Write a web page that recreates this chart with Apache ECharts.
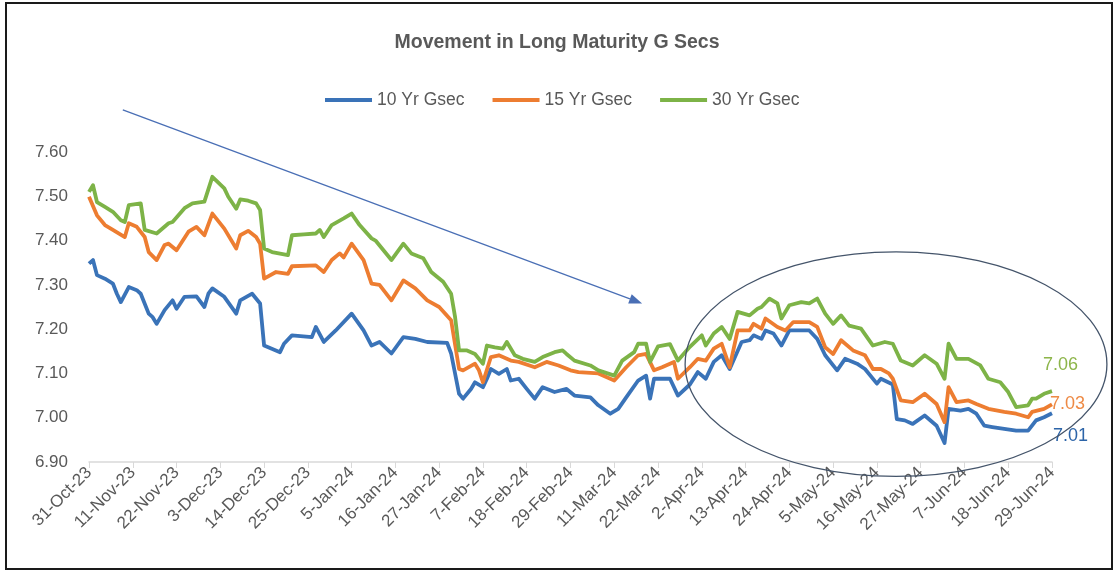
<!DOCTYPE html>
<html>
<head>
<meta charset="utf-8">
<script src="https://cdn.jsdelivr.net/npm/echarts@6/dist/echarts.min.js"></script>
<style>
html,body{margin:0;padding:0;background:#fff;}
#chart{width:1114px;height:581px;}
</style>
</head>
<body>
<div id="chart"></div>
<script>
// Day offsets are counted from 31-Oct-2023
const START = new Date(2023, 9, 31);
const tickLabelsEvery = 11;

const seriesNames = ['10 Yr Gsec', '15 Yr Gsec', '30 Yr Gsec'];

const tenYrDays = [0,1,2,4,6,7,8,10,12,13,15,16,17,19,21,22,24,27,29,30,31,34,37,38,41,43,44,48,49,51,56,57,59,62,66,69,71,73,76,79,82,85,90,91,93,94,96,97,99,100,101,103,105,106,108,110,112,114,117,120,122,126,128,131,133,135,138,140,141,142,146,148,151,153,155,157,159,161,164,166,167,169,170,172,174,176,181,183,185,188,190,193,195,198,199,202,203,205,207,210,213,215,216,219,221,223,225,227,230,233,236,238,240,242];
const tenYr = [7.348,7.356,7.322,7.314,7.303,7.28,7.261,7.295,7.288,7.28,7.235,7.227,7.212,7.243,7.265,7.246,7.273,7.274,7.25,7.28,7.292,7.273,7.235,7.265,7.28,7.258,7.163,7.148,7.167,7.186,7.182,7.205,7.171,7.197,7.235,7.197,7.163,7.171,7.145,7.182,7.178,7.171,7.169,7.145,7.054,7.043,7.065,7.08,7.069,7.088,7.11,7.099,7.11,7.084,7.088,7.065,7.043,7.069,7.058,7.065,7.05,7.046,7.028,7.009,7.02,7.046,7.084,7.095,7.043,7.088,7.088,7.05,7.075,7.103,7.088,7.126,7.141,7.11,7.171,7.175,7.186,7.178,7.197,7.19,7.163,7.197,7.197,7.178,7.141,7.107,7.133,7.122,7.11,7.077,7.088,7.075,6.997,6.994,6.986,7.005,6.982,6.943,7.02,7.016,7.02,7.009,6.982,6.979,6.975,6.971,6.971,6.994,7.001,7.01];

const fifteenYrDays = [0,2,4,6,9,10,12,14,15,17,19,20,22,25,27,29,31,34,37,38,40,42,43,44,47,50,51,57,59,61,63,64,66,69,71,73,76,79,82,85,88,91,93,94,97,98,99,101,103,106,108,112,115,118,121,123,128,132,135,138,140,142,144,147,148,151,153,155,157,159,161,163,166,167,169,170,173,175,177,181,183,185,187,189,192,195,197,199,201,202,204,207,210,213,215,216,218,221,223,226,230,233,236,237,240,242];
const fifteenYr = [7.499,7.457,7.435,7.424,7.408,7.439,7.431,7.408,7.374,7.356,7.39,7.393,7.378,7.42,7.431,7.412,7.461,7.427,7.382,7.412,7.422,7.408,7.393,7.314,7.329,7.325,7.342,7.344,7.329,7.356,7.371,7.362,7.393,7.356,7.303,7.30,7.265,7.31,7.292,7.265,7.25,7.22,7.11,7.107,7.122,7.107,7.08,7.137,7.141,7.129,7.126,7.114,7.126,7.118,7.107,7.103,7.10,7.084,7.114,7.141,7.144,7.107,7.114,7.126,7.088,7.114,7.133,7.129,7.156,7.167,7.114,7.197,7.197,7.212,7.201,7.224,7.205,7.197,7.216,7.216,7.205,7.159,7.144,7.175,7.152,7.141,7.11,7.11,7.10,7.088,7.039,7.035,7.054,7.031,6.99,7.069,7.035,7.039,7.031,7.02,7.013,7.009,7.001,7.013,7.02,7.03];

const thirtyYrDays = [0,1,2,4,6,8,9,10,13,14,17,20,21,24,26,29,31,34,35,37,38,40,42,43,44,46,50,51,54,57,58,59,61,64,66,68,71,72,76,79,81,84,86,89,91,92,93,95,97,99,100,102,104,105,107,109,112,114,117,119,120,122,126,128,132,134,137,138,140,141,143,146,148,151,154,155,157,159,161,163,166,168,169,171,173,174,176,179,181,183,185,187,189,191,194,197,200,202,204,207,210,213,215,216,218,221,224,226,229,231,233,236,237,238,240,242];
const thirtyYr = [7.51,7.525,7.487,7.476,7.465,7.446,7.442,7.48,7.484,7.424,7.416,7.439,7.442,7.473,7.484,7.488,7.544,7.518,7.499,7.472,7.493,7.49,7.484,7.469,7.382,7.374,7.367,7.412,7.414,7.416,7.424,7.408,7.435,7.45,7.461,7.435,7.405,7.40,7.356,7.393,7.371,7.36,7.329,7.307,7.28,7.227,7.152,7.152,7.144,7.122,7.163,7.159,7.156,7.171,7.141,7.133,7.126,7.137,7.148,7.152,7.144,7.129,7.118,7.107,7.095,7.129,7.148,7.167,7.167,7.126,7.161,7.166,7.129,7.16,7.186,7.163,7.19,7.205,7.178,7.239,7.231,7.246,7.25,7.269,7.258,7.224,7.254,7.261,7.258,7.269,7.235,7.212,7.231,7.208,7.201,7.163,7.171,7.167,7.129,7.118,7.141,7.122,7.088,7.167,7.133,7.133,7.118,7.088,7.08,7.058,7.024,7.028,7.043,7.043,7.054,7.06];

const yTicks = ['6.90','7.00','7.10','7.20','7.30','7.40','7.50','7.60'];

const colors = ['#3A73B8', '#ED7D31', '#7DB347'];
const endLabelColors = ['#2C64A8', '#EE8A45', '#8DB54A'];

const MONTHS = ['Jan','Feb','Mar','Apr','May','Jun','Jul','Aug','Sep','Oct','Nov','Dec'];
function dayToLabel(d) {
  const dt = new Date(START.getFullYear(), START.getMonth(), START.getDate() + Math.round(d));
  return dt.getDate() + '-' + MONTHS[dt.getMonth()] + '-' + String(dt.getFullYear()).slice(2);
}
function pairs(days, vals) { return days.map((d, i) => [d, vals[i]]); }

const chart = echarts.init(document.getElementById('chart'));
const font = '"Liberation Sans", Arial, sans-serif';

const endOffsets = [[-7, 23], [-10, 0], [-17, -26]];
const allData = [pairs(tenYrDays, tenYr), pairs(fifteenYrDays, fifteenYr), pairs(thirtyYrDays, thirtyYr)];

chart.setOption({
  animation: false,
  backgroundColor: '#fff',
  title: {
    text: 'Movement in Long Maturity G Secs',
    left: 'center',
    top: 28,
    textStyle: { fontFamily: font, fontSize: 19.5, fontWeight: 'bold', color: '#595959' }
  },
  legend: {
    data: seriesNames,
    left: 325,
    top: 91,
    padding: 0,
    itemGap: 28,
    itemWidth: 47,
    itemHeight: 4,
    icon: 'rect',
    textStyle: { fontFamily: font, fontSize: 17.5, color: '#595959' }
  },
  grid: { left: 89, right: 62, top: 152, bottom: 119, containLabel: false },
  xAxis: {
    type: 'value',
    min: 0,
    max: 242,
    interval: tickLabelsEvery,
    splitLine: { show: false },
    axisLine: { show: true, lineStyle: { color: '#D9D9D9', width: 1.5 } },
    axisTick: { show: true, length: 6, lineStyle: { color: '#D9D9D9' } },
    axisLabel: {
      rotate: 45,
      margin: 8,
      fontFamily: font,
      fontSize: 17,
      color: '#595959',
      formatter: v => dayToLabel(v)
    }
  },
  yAxis: {
    type: 'value',
    min: 6.9,
    max: 7.6,
    interval: 0.1,
    splitLine: { show: false },
    axisLine: { show: false },
    axisTick: { show: false },
    axisLabel: {
      margin: 21,
      fontFamily: font,
      fontSize: 17,
      color: '#595959',
      formatter: v => yTicks[Math.round((v - 6.9) * 10)] || v.toFixed(2)
    }
  },
  series: seriesNames.map((name, i) => ({
    name,
    type: 'line',
    data: allData[i],
    showSymbol: false,
    symbol: 'none',
    color: colors[i],
    lineStyle: { width: 3.8, color: colors[i], join: 'round' },
    z: 2 + i,
    endLabel: {
      show: true,
      formatter: p => p.value[1].toFixed(2),
      offset: endOffsets[i],
      fontFamily: font,
      fontSize: 18,
      color: endLabelColors[i]
    }
  }))
});

// Annotations defined in data space: trend arrow and highlight ellipse
const arrowFrom = [8.5, 7.695];
const arrowTo = [139, 7.258];
const ellipseCenter = [202.8, 7.121];
const ellipseRadius = [53, 0.2534];

function px(p) { return chart.convertToPixel({ gridIndex: 0 }, p); }
const a0 = px(arrowFrom), a1 = px(arrowTo);
const ang = Math.atan2(a1[1] - a0[1], a1[0] - a0[0]);
const headLen = 13, headHalf = 5;
const base = [a1[0] - headLen * Math.cos(ang), a1[1] - headLen * Math.sin(ang)];
const head = [
  a1,
  [base[0] + headHalf * Math.sin(ang), base[1] - headHalf * Math.cos(ang)],
  [base[0] - headHalf * Math.sin(ang), base[1] + headHalf * Math.cos(ang)]
];
const ec = px(ellipseCenter);
const rxPx = px([ellipseCenter[0] + ellipseRadius[0], ellipseCenter[1]])[0] - ec[0];
const ryPx = px([ellipseCenter[0], ellipseCenter[1] - ellipseRadius[1]])[1] - ec[1];

chart.setOption({
  graphic: [
    { type: 'rect', shape: { x: 6, y: 3, width: 1106, height: 566 },
      style: { fill: null, stroke: '#1a1a1a', lineWidth: 2 }, z: 100, silent: true },
    { type: 'line', shape: { x1: a0[0], y1: a0[1], x2: base[0], y2: base[1] },
      style: { stroke: '#4A6FB5', lineWidth: 1.3 }, z: 100, silent: true },
    { type: 'polygon', shape: { points: head }, style: { fill: '#4A6FB5' }, z: 100, silent: true },
    { type: 'ellipse', shape: { cx: ec[0], cy: ec[1], rx: rxPx, ry: Math.abs(ryPx) },
      style: { fill: null, stroke: '#44546A', lineWidth: 1.3 }, z: 100, silent: true }
  ]
});
</script>
</body>
</html>
